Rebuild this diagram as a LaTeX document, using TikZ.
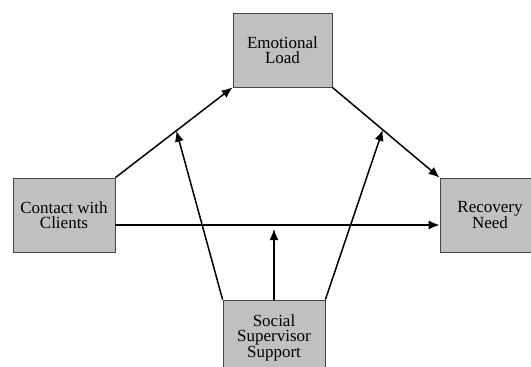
\documentclass[tikz,border=0pt]{standalone}
\usepackage{fontspec}
\setmainfont{Liberation Serif}
\newfontfamily\tnr{Liberation Serif}
\usetikzlibrary{arrows.meta,calc}
\definecolor{boxfill}{RGB}{192,192,192}
\definecolor{boxline}{RGB}{70,70,70}
\begin{document}
\begin{tikzpicture}[x=1pt,y=-1pt,
  varbox/.style={draw=boxline,line width=0.8pt,fill=boxfill,rectangle,inner sep=0pt,
    align=center,font=\tnr\fontsize{17}{15.5}\selectfont},
  conn/.style={line width=1.5pt,-{Latex[length=11pt,width=9pt]}}]
\useasboundingbox (0,0) rectangle (531,367);
\clip (0,0) rectangle (531,367);
\fill[white] (0,0) rectangle (531,367);
\node[varbox,minimum width=99pt,minimum height=74pt] (E) at (282.5,50) {Emotional\\Load};
\node[varbox,minimum width=102pt,minimum height=74pt] (C) at (64,215) {Contact with\\Clients};
\node[varbox,minimum width=100pt,minimum height=74pt] (R) at (490,215) {Recovery\\Need};
\node[varbox,minimum width=102pt,minimum height=75pt] (S) at (274,337.5) {Social\\Supervisor\\Support};
\coordinate (m1) at ($(C.north east)!0.52!(E.south west)$);
\coordinate (m2) at ($(E.south east)!0.47!(R.north west)$);
\coordinate (h) at (274,229);
\draw[conn] (C.north east) -- (E.south west);
\draw[conn] (E.south east) -- (R.north west);
\draw[conn] ([yshift=-10pt]C.east) -- ([yshift=-10pt]R.west);
\draw[conn] (S.north) -- (h);
\draw[conn] (S.north west) -- (m1);
\draw[conn] (S.north east) -- (m2);
\end{tikzpicture}
\end{document}
